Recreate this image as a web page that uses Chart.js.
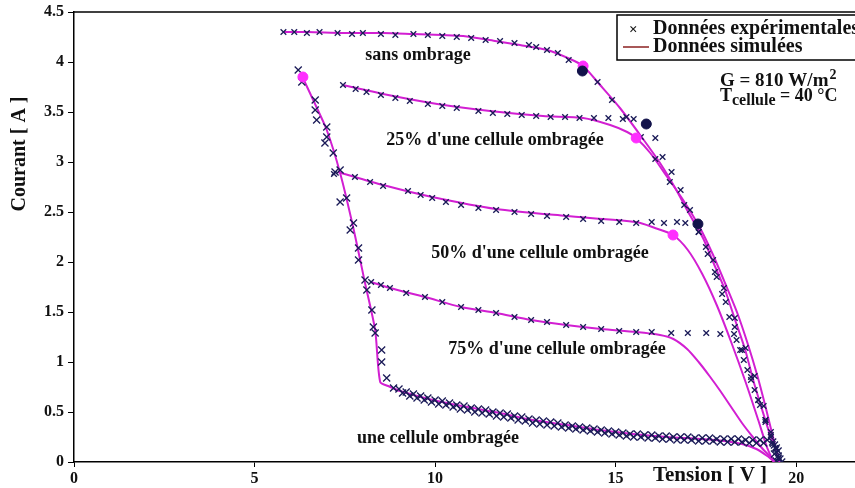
<!DOCTYPE html>
<html>
<head>
<meta charset="utf-8">
<script src="https://cdn.jsdelivr.net/npm/chart.js@4.4.0/dist/chart.umd.min.js"></script>
<style>
body { margin: 0; background: #fff; }
#wrap { width: 855px; height: 488px; position: relative; }
</style>
</head>
<body>
<div id="wrap"><canvas id="iv-chart"></canvas></div>
<script>
// courbes I-V, tension en V, courant en A

// sans ombrage
const sansSimV = [5.79, 6.48, 7.45, 8.56, 9.39, 10.19, 10.78, 11.66, 12.35, 13.10, 13.74, 14.10, 14.57, 15.12, 15.68, 16.23, 16.65, 17.01, 17.42, 17.70, 18.03, 18.31, 18.59, 18.81, 19.06, 19.28, 19.45, 19.56];
const sansSimI = [4.30, 4.30, 4.29, 4.29, 4.28, 4.27, 4.26, 4.21, 4.17, 4.12, 4.03, 3.96, 3.77, 3.54, 3.27, 2.99, 2.74, 2.50, 2.24, 2.00, 1.72, 1.42, 1.12, 0.82, 0.52, 0.27, 0.12, 0];
const sansExpV = [5.8, 6.1, 6.45, 6.8, 7.3, 7.7, 8.0, 8.5, 8.9, 9.4, 9.8, 10.2, 10.6, 11.0, 11.4, 11.8, 12.2, 12.6, 12.8, 13.1, 13.4, 13.7, 14.5, 14.9, 15.3, 15.7, 16.1, 16.5, 16.9, 17.3, 17.7, 18.0, 18.3, 18.6, 18.85, 19.1, 19.3, 19.45];
const sansExpI = [4.30, 4.30, 4.29, 4.30, 4.29, 4.28, 4.29, 4.28, 4.27, 4.28, 4.27, 4.26, 4.25, 4.24, 4.22, 4.21, 4.19, 4.17, 4.15, 4.12, 4.09, 4.02, 3.80, 3.62, 3.45, 3.25, 3.03, 2.80, 2.57, 2.30, 2.02, 1.74, 1.44, 1.14, 0.86, 0.56, 0.30, 0.13];

// 25% d'une cellule ombragee
const q25SimV = [7.45, 8.56, 10.06, 11.52, 12.99, 14.10, 14.85, 15.32, 15.57, 15.96, 16.43, 16.87, 17.34, 17.70, 18.03, 18.37, 18.67, 18.92, 19.14, 19.31, 19.45, 19.53];
const q25SimI = [3.77, 3.68, 3.58, 3.51, 3.46, 3.44, 3.37, 3.30, 3.24, 3.09, 2.85, 2.62, 2.34, 2.07, 1.79, 1.49, 1.17, 0.87, 0.57, 0.32, 0.12, 0];
const q25ExpV = [7.45, 7.8, 8.1, 8.5, 8.9, 9.3, 9.8, 10.2, 10.6, 11.2, 11.6, 12.0, 12.4, 12.8, 13.2, 13.6, 14.0, 14.4, 14.8, 15.2, 15.5, 16.1, 16.3, 16.55, 16.8, 17.06, 17.3, 17.55, 17.8, 18.05, 18.3, 18.5, 18.75, 18.95, 19.15, 19.35, 19.5];
const q25ExpI = [3.77, 3.73, 3.70, 3.67, 3.64, 3.61, 3.58, 3.56, 3.54, 3.51, 3.49, 3.48, 3.47, 3.46, 3.45, 3.45, 3.44, 3.44, 3.44, 3.43, 3.43, 3.24, 3.05, 2.90, 2.72, 2.52, 2.30, 2.08, 1.85, 1.60, 1.35, 1.12, 0.85, 0.62, 0.40, 0.18, 0.04];

// 50% d'une cellule ombragee
const q50SimV = [7.31, 8.56, 9.92, 11.69, 13.63, 15.57, 16.09, 16.59, 17.0, 17.4, 17.8, 18.2, 18.6, 18.95, 19.2, 19.38];
const q50SimI = [2.90, 2.77, 2.65, 2.53, 2.46, 2.40, 2.34, 2.27, 2.12, 1.88, 1.57, 1.20, 0.80, 0.42, 0.14, 0];
const q50ExpV = [7.2, 7.78, 8.2, 8.56, 9.25, 9.6, 9.92, 10.3, 10.72, 11.2, 11.69, 12.2, 12.66, 13.1, 13.63, 14.1, 14.6, 15.1, 15.57, 16.0, 16.34, 16.7, 16.93, 17.5, 17.75, 17.95, 18.15, 18.35, 18.55, 18.75, 18.95, 19.15, 19.3, 19.45];
const q50ExpI = [2.88, 2.85, 2.80, 2.76, 2.71, 2.67, 2.64, 2.60, 2.57, 2.54, 2.52, 2.50, 2.48, 2.46, 2.45, 2.43, 2.41, 2.40, 2.39, 2.40, 2.39, 2.40, 2.39, 2.15, 1.90, 1.68, 1.45, 1.22, 1.02, 0.82, 0.62, 0.42, 0.25, 0.10];

// 75% d'une cellule ombragee
const q75SimV = [8.23, 8.75, 9.72, 10.72, 11.69, 12.66, 13.63, 14.60, 15.57, 16.23, 16.60, 16.98, 17.30, 17.60, 17.90, 18.20, 18.50, 18.80, 19.10, 19.36, 19.45];
const q75SimI = [1.80, 1.74, 1.65, 1.55, 1.49, 1.42, 1.37, 1.33, 1.30, 1.27, 1.23, 1.13, 1.00, 0.86, 0.71, 0.55, 0.39, 0.25, 0.12, 0.03, 0];
const q75ExpV = [8.23, 8.5, 8.75, 9.2, 9.72, 10.2, 10.72, 11.2, 11.69, 12.2, 12.66, 13.1, 13.63, 14.1, 14.6, 15.1, 15.57, 16.0, 16.54, 17.0, 17.51, 17.9, 18.28, 18.45, 18.65, 18.85, 19.0, 19.15, 19.3, 19.42, 19.52];
const q75ExpI = [1.80, 1.77, 1.74, 1.69, 1.65, 1.60, 1.55, 1.52, 1.49, 1.45, 1.42, 1.40, 1.37, 1.35, 1.33, 1.31, 1.30, 1.30, 1.29, 1.29, 1.29, 1.28, 1.28, 1.12, 0.92, 0.72, 0.57, 0.42, 0.27, 0.14, 0.04];

// une cellule ombragee
const unSimV = [6.34, 6.65, 7.00, 7.37, 7.73, 8.06, 8.34, 8.48, 8.70, 9.03, 9.94, 10.90, 11.80, 12.70, 13.66, 14.57, 15.48, 16.43, 17.34, 18.00, 18.50, 18.90, 19.20, 19.40];
const unSimI = [3.84, 3.60, 3.32, 2.89, 2.35, 1.79, 1.32, 0.80, 0.76, 0.71, 0.62, 0.55, 0.49, 0.42, 0.37, 0.32, 0.28, 0.25, 0.23, 0.21, 0.18, 0.13, 0.06, 0];
const unExpV = [6.21, 6.31, 6.68, 6.68, 6.72, 7.0, 7.0, 6.95, 7.18, 7.23, 7.37, 7.37, 7.55, 7.74, 7.65, 7.88, 7.88, 8.06, 8.11, 8.25, 8.29, 8.34, 8.52, 8.52, 8.66, 8.85,
  9.0, 9.2, 9.4, 9.6, 9.8, 10.0, 10.2, 10.4, 10.6, 10.8, 11.0, 11.2, 11.4, 11.6, 11.8, 12.0, 12.2, 12.4, 12.6, 12.8, 13.0, 13.2, 13.4, 13.6, 13.8, 14.0, 14.2, 14.4, 14.6, 14.8, 15.0, 15.2, 15.4, 15.6, 15.8, 16.0, 16.2, 16.4, 16.6, 16.8, 17.0, 17.2, 17.4, 17.6, 17.8, 18.0, 18.2, 18.4, 18.6, 18.8, 19.0, 19.2,
  9.1, 9.3, 9.5, 9.7, 9.9, 10.1, 10.3, 10.5, 10.7, 10.9, 11.1, 11.3, 11.5, 11.7, 11.9, 12.1, 12.3, 12.5, 12.7, 12.9, 13.1, 13.3, 13.5, 13.7, 13.9, 14.1, 14.3, 14.5, 14.7, 14.9, 15.1, 15.3, 15.5, 15.7, 15.9, 16.1, 16.3, 16.5, 16.7, 16.9, 17.1, 17.3, 17.5, 17.7, 17.9, 18.1, 18.3, 18.5, 18.7, 18.9, 19.1,
  19.35, 19.4, 19.45, 19.5, 19.4, 19.5, 19.55, 19.45, 19.6];
const unExpI = [3.92, 3.80, 3.62, 3.52, 3.42, 3.35, 3.25, 3.19, 3.09, 2.90, 2.92, 2.60, 2.64, 2.39, 2.32, 2.14, 2.02, 1.82, 1.72, 1.52, 1.35, 1.29, 1.12, 1.00, 0.84, 0.74,
  0.73, 0.70, 0.68, 0.66, 0.64, 0.62, 0.61, 0.59, 0.57, 0.56, 0.54, 0.53, 0.52, 0.50, 0.49, 0.48, 0.46, 0.45, 0.43, 0.42, 0.41, 0.40, 0.39, 0.37, 0.36, 0.35, 0.34, 0.33, 0.32, 0.31, 0.30, 0.29, 0.28, 0.28, 0.27, 0.27, 0.26, 0.26, 0.25, 0.25, 0.25, 0.24, 0.24, 0.24, 0.23, 0.23, 0.23, 0.23, 0.22, 0.22, 0.22, 0.22,
  0.69, 0.66, 0.64, 0.62, 0.60, 0.58, 0.57, 0.55, 0.53, 0.52, 0.50, 0.49, 0.48, 0.46, 0.45, 0.44, 0.42, 0.41, 0.39, 0.38, 0.37, 0.36, 0.35, 0.34, 0.33, 0.32, 0.31, 0.30, 0.29, 0.28, 0.27, 0.26, 0.25, 0.25, 0.24, 0.24, 0.23, 0.23, 0.22, 0.22, 0.22, 0.21, 0.21, 0.21, 0.20, 0.20, 0.20, 0.20, 0.19, 0.19, 0.19,
  0.20, 0.17, 0.14, 0.11, 0.08, 0.06, 0.03, 0.01, 0.0];

// points marques (rond rose = simule, rond bleu = mesure)
const pinkV = [14.10, 15.57, 16.59, 6.34];
const pinkI = [3.96, 3.24, 2.27, 3.85];
const navyV = [14.08, 15.85, 17.28];
const navyI = [3.91, 3.38, 2.38];

// axes
const xMax = 21.63;
const yMax = 4.5;

const labels = [
	{text: 'sans ombrage', x: 418, y: 55},
	{text: "25% d'une cellule ombragée", x: 495, y: 140},
	{text: "50% d'une cellule ombragée", x: 540, y: 253},
	{text: "75% d'une cellule ombragée", x: 557, y: 349},
	{text: 'une cellule ombragée', x: 438, y: 438}
];

function pts(vs, is) {
	const out = [];
	for (let i = 0; i < vs.length; i++) out.push({x: vs[i], y: is[i]});
	return out;
}

const navy = '#1b1b58';
const magenta = '#d21fd2';

function expSet(vs, is, r) {
	return {data: pts(vs, is), pointStyle: 'crossRot', pointRadius: r || 4, borderColor: navy, borderWidth: 1.3, showLine: false};
}
function simSet(vs, is) {
	return {data: pts(vs, is), showLine: true, pointRadius: 0, borderColor: magenta, borderWidth: 2, tension: 0.25};
}

const textPlugin = {
	id: 'textes',
	afterDraw(chart) {
		const ctx = chart.ctx;
		const a = chart.chartArea;
		ctx.save();
		// cadre du haut
		ctx.strokeStyle = '#000';
		ctx.lineWidth = 1.5;
		ctx.beginPath();
		ctx.moveTo(a.left, a.top);
		ctx.lineTo(a.right, a.top);
		ctx.stroke();

		ctx.fillStyle = '#111';
		ctx.textAlign = 'center';
		ctx.textBaseline = 'middle';
		ctx.font = 'bold 18px "Liberation Serif"';
		for (const l of labels) ctx.fillText(l.text, l.x, l.y);

		// titre axe x
		ctx.font = 'bold 21px "Liberation Serif"';
		ctx.fillText('Tension [ V ]', 710, 476);

		// titre axe y
		ctx.save();
		ctx.translate(20, 154);
		ctx.rotate(-Math.PI / 2);
		ctx.font = 'bold 20px "Liberation Serif"';
		ctx.fillText('Courant [ A ]', 0, 0);
		ctx.restore();

		// legende
		ctx.fillStyle = '#fff';
		ctx.fillRect(617, 15, 250, 45);
		ctx.strokeStyle = '#000';
		ctx.lineWidth = 1.5;
		ctx.strokeRect(617, 15, 250, 45);
		ctx.fillStyle = '#111';
		ctx.textAlign = 'left';
		ctx.font = 'bold 15px "Liberation Serif"';
		ctx.fillText('×', 629, 30);
		ctx.font = 'bold 20px "Liberation Serif"';
		ctx.fillText('Données expérimentales', 653, 29);
		ctx.fillText('Données simulées', 653, 47);
		ctx.strokeStyle = '#8b2020';
		ctx.lineWidth = 1.5;
		ctx.beginPath();
		ctx.moveTo(623, 47);
		ctx.lineTo(649, 47);
		ctx.stroke();

		// conditions
		ctx.font = 'bold 19px "Liberation Serif"';
		ctx.fillText('G = 810 W/m', 720, 81);
		let w = ctx.measureText('G = 810 W/m').width;
		ctx.font = 'bold 14px "Liberation Serif"';
		ctx.fillText('2', 720 + w + 1, 75);
		ctx.font = 'bold 18px "Liberation Serif"';
		ctx.fillText('T', 720, 96);
		w = ctx.measureText('T').width;
		ctx.font = 'bold 16px "Liberation Serif"';
		ctx.fillText('cellule', 720 + w, 101);
		const w2 = ctx.measureText('cellule').width;
		ctx.font = 'bold 18px "Liberation Serif"';
		ctx.fillText(' = 40 °C', 720 + w + w2, 96);
		ctx.restore();
	}
};

new Chart(document.getElementById('iv-chart'), {
	type: 'scatter',
	data: {
		datasets: [
			{data: pts(navyV, navyI), pointRadius: 5, pointStyle: 'circle', backgroundColor: '#12124a', borderColor: '#12124a'},
			{data: pts(pinkV, pinkI), pointRadius: 5, pointStyle: 'circle', backgroundColor: '#ff2eff', borderColor: '#ff2eff'},
			expSet(sansExpV, sansExpI),
			expSet(q25ExpV, q25ExpI),
			expSet(q50ExpV, q50ExpI),
			expSet(q75ExpV, q75ExpI),
			expSet(unExpV, unExpI, 5),
			simSet(sansSimV, sansSimI),
			simSet(q25SimV, q25SimI),
			simSet(q50SimV, q50SimI),
			simSet(q75SimV, q75SimI),
			simSet(unSimV, unSimI)
		]
	},
	options: {
		responsive: true,
		maintainAspectRatio: false,
		animation: false,
		layout: {autoPadding: false, padding: {top: 12, right: 0, left: 0, bottom: 0}},
		plugins: {legend: {display: false}, tooltip: {enabled: false}},
		scales: {
			x: {
				type: 'linear', min: 0, max: xMax,
				grid: {display: true, drawOnChartArea: false, drawTicks: true, tickLength: 5, tickColor: '#000'},
				border: {display: true, color: '#000', width: 1.5},
				ticks: {stepSize: 5, includeBounds: false, color: '#111', padding: 2, font: {family: 'Liberation Serif', weight: 'bold', size: 16}},
				afterFit: s => { s.height = 26; s.paddingLeft = 0; s.paddingRight = 0; }
			},
			y: {
				min: 0, max: yMax,
				grid: {display: true, drawOnChartArea: false, drawTicks: true, tickLength: 6, tickColor: '#000'},
				border: {display: true, color: '#000', width: 1.5},
				ticks: {stepSize: 0.5, color: '#111', padding: 4, font: {family: 'Liberation Serif', weight: 'bold', size: 16},
					callback: v => String(v)},
				afterFit: s => { s.width = 74; s.paddingTop = 0; s.paddingBottom = 0; }
			}
		}
	},
	plugins: [textPlugin]
});
</script>
</body>
</html>
